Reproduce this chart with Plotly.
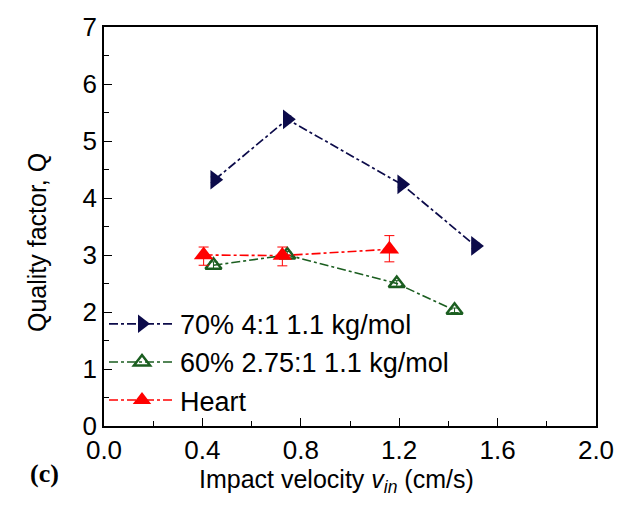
import plotly.graph_objects as go

# Impact velocity (cm/s) and quality factor Q for each sample
v_70 = [0.45, 0.745, 1.21, 1.51]
q_70 = [4.32, 5.38, 4.24, 3.16]
e_70 = [0.05, 0.06, 0.05, 0.05]

v_60 = [0.445, 0.745, 1.19, 1.425]
q_60 = [2.82, 3.00, 2.50, 2.03]
e_60 = [0.06, 0.06, 0.05, 0.04]

v_heart = [0.405, 0.725, 1.16]
q_heart = [3.00, 2.99, 3.10]
e_heart_up = [0.14, 0.15, 0.24]
e_heart_dn = [0.18, 0.18, 0.22]

names = ["70% 4:1 1.1 kg/mol", "60% 2.75:1 1.1 kg/mol", "Heart"]
x_ticks = [0.0, 0.4, 0.8, 1.2, 1.6, 2.0]
y_ticks = [0, 1, 2, 3, 4, 5, 6, 7]

FONT = "Arial, Liberation Sans, sans-serif"
FS = 26
NAVY = "#0c0b4a"
GREEN = "#1b5e20"
RED = "#ff0000"

fig = go.Figure()

fig.add_trace(go.Scatter(
    x=v_70, y=q_70, name=names[0], mode="lines+markers", legendgroup="a",
    line=dict(color=NAVY, width=1.7, dash="dashdot"),
    marker=dict(symbol="triangle-right", size=17, color=NAVY),
    error_y=dict(type="data", array=e_70, color=NAVY, thickness=1, width=4),
))
fig.add_trace(go.Scatter(
    x=v_60, y=q_60, name=names[1], mode="lines+markers", legendgroup="b",
    line=dict(color=GREEN, width=1.6, dash="dashdot"),
    marker=dict(symbol="triangle-up-open", size=14, color=GREEN,
                line=dict(width=2.5, color=GREEN)),
    error_y=dict(type="data", array=e_60, color=GREEN, thickness=1, width=4),
))
fig.add_trace(go.Scatter(
    x=v_heart, y=q_heart, name=names[2], mode="lines+markers", legendgroup="c",
    line=dict(color=RED, width=1.6, dash="dashdot"),
    marker=dict(symbol="triangle-up", size=17, color=RED),
    error_y=dict(type="data", symmetric=False, array=e_heart_up,
                 arrayminus=e_heart_dn, color=RED, thickness=1, width=5),
))

axis_common = dict(
    showline=True, linecolor="black", linewidth=1.5, mirror=True,
    ticks="inside", ticklen=8, tickwidth=1.2, tickcolor="black",
    showgrid=False, zeroline=False,
    tickfont=dict(family=FONT, size=FS, color="black"),
)

fig.update_xaxes(
    range=[0, 2.0], tickvals=x_ticks,
    ticktext=[f"{t:.1f}" for t in x_ticks],
    minor=dict(ticks="inside", ticklen=5, tickcolor="black", dtick=0.2, tickwidth=1.2),
    **axis_common,
)
fig.update_yaxes(
    range=[0, 7], tickvals=y_ticks,
    minor=dict(ticks="inside", ticklen=5, tickcolor="black", dtick=0.5, tickwidth=1.2),
    **axis_common,
)

# Axis titles and panel label
fig.add_annotation(
    text="Impact velocity <i>v</i><sub><i>in</i></sub> (cm/s)",
    xref="paper", yref="paper", x=0.472, y=-0.137,
    xanchor="center", yanchor="middle", showarrow=False,
    font=dict(family=FONT, size=FS - 1, color="black"),
)
fig.add_annotation(
    text="Quality factor, Q", textangle=-90,
    xref="paper", yref="paper", x=-0.135, y=0.46,
    xanchor="center", yanchor="middle", showarrow=False,
    font=dict(family=FONT, size=FS - 1, color="black"),
)
fig.add_annotation(
    text="<b>(c)</b>", xref="paper", yref="paper", x=-0.12, y=-0.118,
    xanchor="center", yanchor="middle", showarrow=False,
    font=dict(family="Times New Roman, Liberation Serif, serif", size=FS, color="black"),
)

fig.update_layout(
    width=626, height=511,
    margin=dict(l=104, r=22, t=21, b=85),
    paper_bgcolor="white", plot_bgcolor="white",
    legend=dict(
        x=0.0, y=0.003, xanchor="left", yanchor="bottom",
        bgcolor="rgba(0,0,0,0)", font=dict(family=FONT, size=27, color="black"),
        traceorder="grouped", tracegroupgap=0, itemwidth=66,
    ),
    showlegend=True,
)

fig.write_html("out.html")
